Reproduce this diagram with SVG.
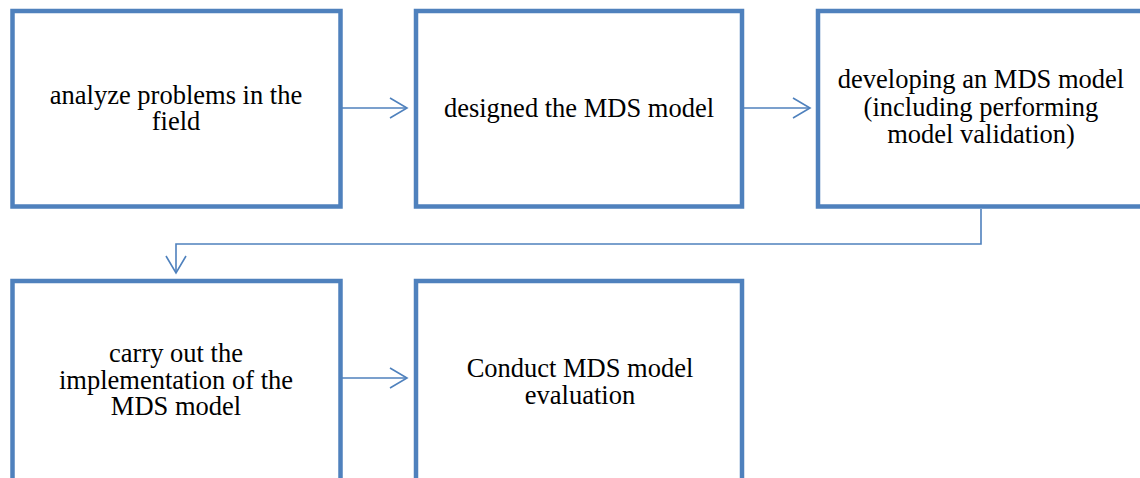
<svg xmlns="http://www.w3.org/2000/svg" width="1140" height="478" viewBox="0 0 1140 478">
  <style>
    .box { fill: #ffffff; stroke: #4f81bd; stroke-width: 4.5; }
    .lbl { font-family: "Liberation Serif", "Times New Roman", serif; font-size: 26.5px; fill: #000000; text-anchor: middle; }
    .link { fill: none; stroke: #4f81bd; stroke-width: 1.6; marker-end: url(#chevron); }
  </style>
  <defs>
    <marker id="chevron" markerUnits="userSpaceOnUse" markerWidth="20" markerHeight="24" refX="18" refY="11" orient="auto">
      <path d="M1,1 L18,11 L1,21" fill="none" stroke="#4f81bd" stroke-width="1.6"/>
    </marker>
  </defs>
  <rect width="1140" height="478" fill="#ffffff"/>

  <g id="connectors">
    <path class="link" d="M342,108 H407"/>
    <path class="link" d="M744,108 H810"/>
    <path class="link" d="M981,209 V244 H176 V273"/>
    <path class="link" d="M342,378 H407"/>
  </g>

  <g id="node-analyze">
    <rect class="box" x="12.5" y="11" width="328" height="195.5"/>
    <text class="lbl" x="176" y="104">analyze problems in the</text>
    <text class="lbl" x="176" y="130">field</text>
  </g>

  <g id="node-design">
    <rect class="box" x="416" y="11" width="326" height="195.5"/>
    <text class="lbl" x="579" y="117">designed the MDS model</text>
  </g>

  <g id="node-develop">
    <rect class="box" x="818" y="11" width="326" height="195.5"/>
    <text class="lbl" x="981" y="88">developing an MDS model</text>
    <text class="lbl" x="981" y="115.5">(including performing</text>
    <text class="lbl" x="981" y="143">model validation)</text>
  </g>

  <g id="node-implement">
    <rect class="box" x="12.5" y="281" width="328" height="202"/>
    <text class="lbl" x="176" y="362">carry out the</text>
    <text class="lbl" x="176" y="388.5">implementation of the</text>
    <text class="lbl" x="176" y="415">MDS model</text>
  </g>

  <g id="node-evaluate">
    <rect class="box" x="416" y="281" width="326" height="202"/>
    <text class="lbl" x="580" y="377">Conduct MDS model</text>
    <text class="lbl" x="580" y="403.5">evaluation</text>
  </g>
</svg>
